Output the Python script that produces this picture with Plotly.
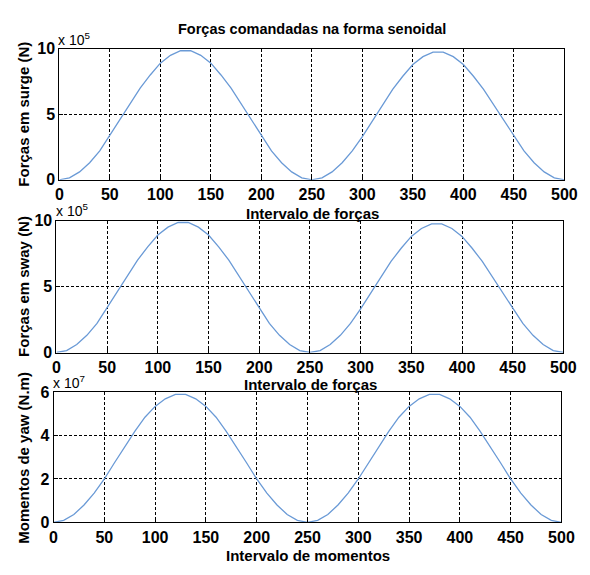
import plotly.graph_objects as go

# sample positions
x_vals = list(range(0, 501, 10))

# Forças em surge (x 10^5 N)
surge = [0, 0.15, 0.6, 1.3, 2.2, 3.4, 4.6, 5.8, 7.0, 8.0, 8.9, 9.5, 9.85, 9.85, 9.5, 8.9, 8.0, 7.0, 5.8, 4.6, 3.4, 2.2, 1.3, 0.6, 0.15,
         0, 0.15, 0.6, 1.3, 2.2, 3.3, 4.5, 5.7, 6.9, 7.9, 8.8, 9.4, 9.75, 9.75, 9.4, 8.8, 7.9, 6.9, 5.7, 4.5, 3.3, 2.2, 1.3, 0.6, 0.15, 0]
# Forças em sway (x 10^5 N)
sway = [0, 0.15, 0.6, 1.3, 2.2, 3.4, 4.6, 5.8, 7.0, 8.0, 8.9, 9.5, 9.85, 9.85, 9.5, 8.9, 8.0, 7.0, 5.8, 4.6, 3.4, 2.2, 1.3, 0.6, 0.15,
        0, 0.15, 0.6, 1.3, 2.2, 3.3, 4.5, 5.7, 6.9, 7.9, 8.8, 9.4, 9.75, 9.75, 9.4, 8.8, 7.9, 6.9, 5.7, 4.5, 3.3, 2.2, 1.3, 0.6, 0.15, 0]
# Momentos de yaw (x 10^7 N.m)
yaw = [0, 0.09, 0.36, 0.8, 1.35, 2.0, 2.75, 3.5, 4.2, 4.85, 5.35, 5.7, 5.9, 5.9, 5.7, 5.35, 4.85, 4.2, 3.5, 2.75, 2.0, 1.35, 0.8, 0.36, 0.09,
       0, 0.09, 0.36, 0.8, 1.35, 2.0, 2.75, 3.5, 4.2, 4.85, 5.35, 5.7, 5.9, 5.9, 5.7, 5.35, 4.85, 4.2, 3.5, 2.75, 2.0, 1.35, 0.8, 0.36, 0.09, 0]

x_ticks = [0, 50, 100, 150, 200, 250, 300, 350, 400, 450, 500]
force_ticks = [0, 5, 10]
yaw_ticks = [0, 2, 4, 6]

title_text = "Forças comandadas na forma senoidal"
ylabels = ["Forças em surge (N)", "Forças em sway (N)", "Momentos de yaw (N.m)"]
xlabels = ["Intervalo de forças", "Intervalo de forças", "Intervalo de momentos"]
exps = ["x 10<sup>5</sup>", "x 10<sup>5</sup>", "x 10<sup>7</sup>"]

W, H = 590, 575
line_col = "#6a9ad6"
font_fam = "Liberation Sans, Arial, sans-serif"

panels = [
    (surge, force_ticks, [0, 10], (57, 577, 42, 177)),
    (sway, force_ticks, [0, 10], (54, 576, 219, 355)),
    (yaw, yaw_ticks, [0, 6], (51, 574, 396, 530)),
]

fig = go.Figure()
layout = dict(width=W, height=H, margin=dict(l=0, r=0, t=0, b=0),
              paper_bgcolor="white", plot_bgcolor="white", showlegend=False,
              font=dict(family=font_fam, color="black"))
annotations = []
x_label_centers = [212, 388, 564]
for i, (ys, yt, yr, (x0, x1, y0, y1)) in enumerate(panels):
    n = "" if i == 0 else str(i + 1)
    fig.add_trace(go.Scatter(x=x_vals, y=ys, mode="lines", line=dict(color=line_col, width=1.3),
                             xaxis="x" + n, yaxis="y" + n))
    axcommon = dict(showline=True, linecolor="black", linewidth=1, mirror=True,
                    ticks="inside", ticklen=4, tickcolor="black",
                    showgrid=True, gridcolor="black", griddash="3px,2px", gridwidth=0.8,
                    zeroline=False,
                    tickfont=dict(size=16, family=font_fam, color="black", weight="bold"))
    layout["xaxis" + n] = dict(axcommon, domain=[x0 / W, x1 / W], range=[0, 500],
                               tickvals=x_ticks, anchor="y" + n)
    layout["yaxis" + n] = dict(axcommon, domain=[1 - y1 / H, 1 - y0 / H], range=yr,
                               tickvals=yt, anchor="x" + n)
    annotations.append(dict(text=ylabels[i], textangle=-90, xref="paper", yref="paper",
                            x=20 / W, y=1 - (y0 + y1) / 2 / H, xanchor="center", yanchor="middle",
                            showarrow=False, font=dict(size=15, family=font_fam, weight="bold")))
    annotations.append(dict(text=exps[i], xref="paper", yref="paper", x=(x0 - 3) / W,
                            y=1 - (y0 + 1) / H, xanchor="left", yanchor="bottom", showarrow=False,
                            font=dict(size=14, family=font_fam)))
    annotations.append(dict(text=xlabels[i], xref="paper", yref="paper", x=(x0 + x1) / 2 / W + 0.5 / W,
                            y=1 - x_label_centers[i] / H, xanchor="center", yanchor="middle",
                            showarrow=False, font=dict(size=15, family=font_fam, weight="bold")))

annotations.append(dict(text=title_text, xref="paper", yref="paper", x=317 / W, y=1 - 22 / H,
                        xanchor="center", yanchor="middle", showarrow=False,
                        font=dict(size=14.5, family=font_fam, weight="bold")))
layout["annotations"] = annotations
fig.update_layout(**layout)
fig.write_html("out.html")
